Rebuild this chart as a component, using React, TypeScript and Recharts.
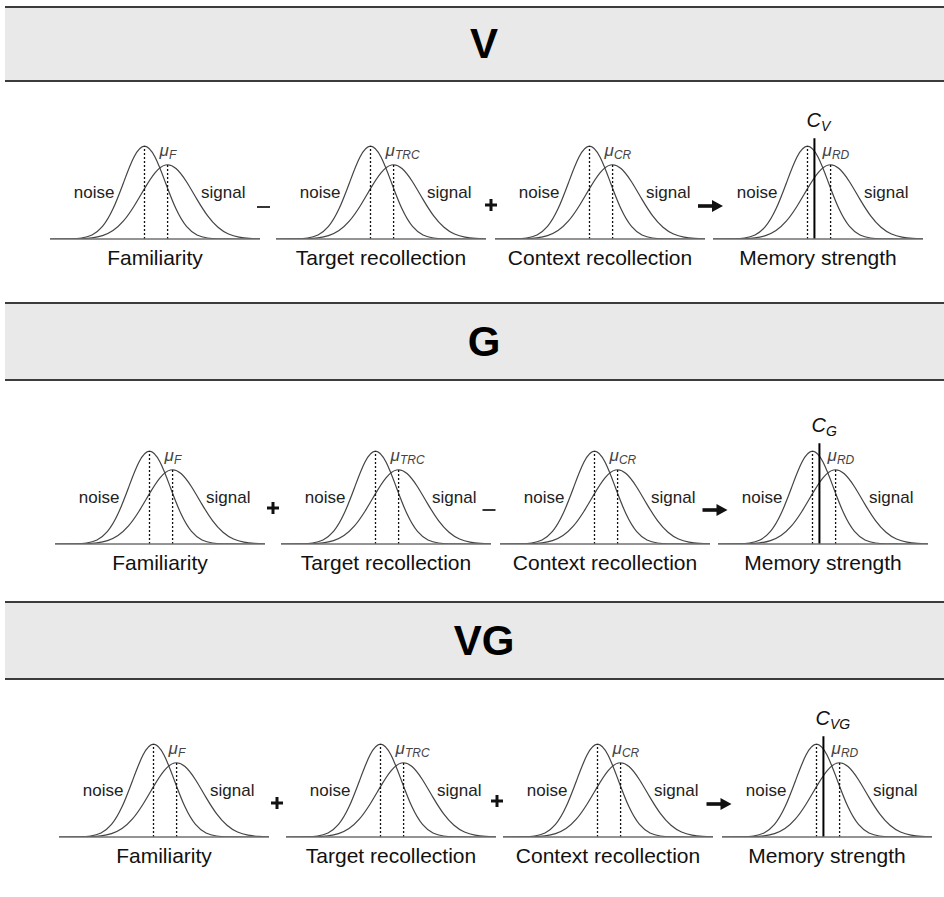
import React from 'react';
import { LineChart, Line, XAxis, YAxis, ReferenceLine, ReferenceDot } from 'recharts';

// ---------- data ----------
const X_GRID = [-4.5, -4, -3.5, -3, -2.5, -2, -1.5, -1, -0.5, 0, 0.5, 1, 1.5, 2, 2.5, 3, 3.5, 4, 4.5, 5, 5.5];
const NOISE = [0.00004, 0.0003, 0.0022, 0.0111, 0.0439, 0.1353, 0.3247, 0.6065, 0.8825, 1, 0.8825, 0.6065, 0.3247, 0.1353, 0.0439, 0.0111, 0.0022, 0.0003, 0.00004, 0, 0];
const SIGNAL = [0, 0.0002, 0.0009, 0.0037, 0.0127, 0.037, 0.092, 0.195, 0.353, 0.543, 0.713, 0.797, 0.76, 0.617, 0.427, 0.252, 0.127, 0.054, 0.0198, 0.0062, 0.0016];

const PANEL_TITLES = ['V', 'G', 'VG'];
const AXIS_LABELS = ['Familiarity', 'Target recollection', 'Context recollection', 'Memory strength'];
const MU_SUBSCRIPTS = ['F', 'TRC', 'CR', 'RD'];
const OPERATORS = [
  ['minus', 'plus', 'arrow'],
  ['plus', 'minus', 'arrow'],
  ['plus', 'plus', 'arrow'],
];
const CRITERION_SUBSCRIPTS = ['V', 'G', 'VG'];
const CRITERIA = [0.33, 0.33, 0.33];
const NOISE_MEAN = 0;
const SIGNAL_MEAN = 1.1;
const NOISE_PEAK = 1;
const SIGNAL_PEAK = 0.8;
const CRITERION_TOP = 1.085;
const NOISE_TEXT_AT = [-2.4, 0.5];
const SIGNAL_TEXT_AT = [3.75, 0.5];

const DATA = X_GRID.map((x, i) => ({ x, noise: NOISE[i], signal: SIGNAL[i] }));

// ---------- layout ----------
const FONT = '"Liberation Sans", Arial, Helvetica, sans-serif';
const PLOT_W = 210;
const PLOT_H = 130;
const AXIS_H = 40;
const NOISE_OFFSET = 94.5; // px from plot left to noise mean
const BANDS = [[7, 81], [303, 380], [602, 679]];
const ROW_BASELINES = [239, 544, 837];
const ROW_NOISE_MEANS = [
  [144, 370, 589, 807],
  [149, 375, 594, 812],
  [153, 380, 597, 816],
];
const OP_POS = [
  [[263.5, 207], [491, 205], [710.5, 206]],
  [[273, 508], [489, 510], [715, 510]],
  [[277, 803], [497, 801], [719, 804]],
];

const vbCenter = (props: any) => {
  const vb = props.viewBox || { x: 0, y: 0, width: 0, height: 0 };
  return { cx: vb.x + (vb.width || 0) / 2, cy: vb.y + (vb.height || 0) / 2, vb };
};

const axisTitle = (text: string) => (props: any) => {
  const vb = props.viewBox || { x: 0, y: 0, width: 0 };
  return (
    <text x={vb.x + vb.width / 2} y={vb.y + 26} textAnchor="middle" fontSize={21} fontFamily={FONT} fill="#111">
      {text}
    </text>
  );
};

const plainText = (text: string) => (props: any) => {
  const { cx, cy } = vbCenter(props);
  return (
    <text x={cx} y={cy + 5} textAnchor="middle" fontSize={17} fontFamily={FONT} fill="#222">
      {text}
    </text>
  );
};

const muText = (sub: string) => (props: any) => {
  const { cx, cy } = vbCenter(props);
  return (
    <text x={cx - 8} y={cy - 9} fontFamily={FONT} fill="#444" fontStyle="italic">
      <tspan fontSize={17}>μ</tspan>
      <tspan fontSize={12} dy={3}>{sub}</tspan>
    </text>
  );
};

const critText = (sub: string) => (props: any) => {
  const { cx, cy } = vbCenter(props);
  return (
    <text x={cx - 8} y={cy - 11} fontFamily={FONT} fill="#111" fontStyle="italic">
      <tspan fontSize={20}>C</tspan>
      <tspan fontSize={14} dy={4}>{sub}</tspan>
    </text>
  );
};

function MiniChart({ axisLabel, muSub, criterion, critSub }: { axisLabel: string; muSub: string; criterion?: number; critSub?: string }) {
  return (
    <LineChart
      width={PLOT_W}
      height={PLOT_H + AXIS_H}
      data={DATA}
      margin={{ top: 0, right: 0, bottom: 0, left: 0 }}
      style={{ overflow: 'visible' }}
    >
      <XAxis
        type="number"
        dataKey="x"
        domain={[-4.5, 5.5]}
        allowDataOverflow
        tick={false}
        tickLine={false}
        axisLine={{ stroke: '#707070', strokeWidth: 1.6 }}
        height={AXIS_H}
        label={axisTitle(axisLabel)}
      />
      <YAxis type="number" hide domain={[0, 1.4]} allowDataOverflow />
      <Line type="natural" dataKey="noise" stroke="#444" strokeWidth={1.2} dot={false} isAnimationActive={false} />
      <Line type="natural" dataKey="signal" stroke="#444" strokeWidth={1.2} dot={false} isAnimationActive={false} />
      <ReferenceLine
        segment={[{ x: NOISE_MEAN, y: 0 }, { x: NOISE_MEAN, y: NOISE_PEAK }]}
        stroke="#111"
        strokeWidth={1.3}
        strokeDasharray="2 2"
      />
      <ReferenceLine
        segment={[{ x: SIGNAL_MEAN, y: 0 }, { x: SIGNAL_MEAN, y: SIGNAL_PEAK }]}
        stroke="#111"
        strokeWidth={1.3}
        strokeDasharray="2 2"
      />
      {criterion !== undefined && (
        <ReferenceLine
          segment={[{ x: criterion, y: 0 }, { x: criterion, y: CRITERION_TOP }]}
          stroke="#000"
          strokeWidth={2}
        />
      )}
      {criterion !== undefined && (
        <ReferenceDot x={criterion} y={CRITERION_TOP} r={0} fill="none" stroke="none" label={critText(critSub || '')} />
      )}
      <ReferenceDot x={SIGNAL_MEAN} y={SIGNAL_PEAK} r={0} fill="none" stroke="none" label={muText(muSub)} />
      <ReferenceDot x={NOISE_TEXT_AT[0]} y={NOISE_TEXT_AT[1]} r={0} fill="none" stroke="none" label={plainText('noise')} />
      <ReferenceDot x={SIGNAL_TEXT_AT[0]} y={SIGNAL_TEXT_AT[1]} r={0} fill="none" stroke="none" label={plainText('signal')} />
    </LineChart>
  );
}

function Operator({ kind, x, y }: { kind: string; x: number; y: number }) {
  if (kind === 'minus') {
    return <line x1={x - 6.5} x2={x + 6.5} y1={y} y2={y} stroke="#111" strokeWidth={1.7} />;
  }
  if (kind === 'plus') {
    return (
      <g stroke="#111" strokeWidth={3}>
        <line x1={x - 6} x2={x + 6} y1={y} y2={y} />
        <line x1={x} x2={x} y1={y - 6} y2={y + 6} />
      </g>
    );
  }
  return (
    <g fill="#111">
      <rect x={x - 12.5} y={y - 1.8} width={15} height={3.6} />
      <polygon points={`${x + 12.5},${y} ${x + 1.5},${y - 6} ${x + 1.5},${y + 6}`} />
    </g>
  );
}

export default function App() {
  return (
    <div style={{ position: 'absolute', left: 0, top: 0, width: 944, height: 897, background: '#fff', overflow: 'hidden', fontFamily: FONT }}>
      {PANEL_TITLES.map((title, r) => (
        <React.Fragment key={title}>
          <div
            style={{
              position: 'absolute',
              left: 5,
              top: BANDS[r][0] - 1,
              width: 944 - 5,
              height: BANDS[r][1] - BANDS[r][0] - 2,
              background: '#e9e9e9',
              borderTop: '2px solid #3c3c3c',
              borderBottom: '2px solid #3c3c3c',
            }}
          />
          <div
            style={{
              position: 'absolute',
              left: 384,
              width: 200,
              top: BANDS[r][0],
              height: BANDS[r][1] - BANDS[r][0],
              lineHeight: `${BANDS[r][1] - BANDS[r][0]}px`,
              textAlign: 'center',
              fontSize: 42,
              fontWeight: 'bold',
              color: '#000',
            }}
          >
            {title}
          </div>
          {AXIS_LABELS.map((lab, c) => (
            <div
              key={lab}
              style={{
                position: 'absolute',
                left: ROW_NOISE_MEANS[r][c] - NOISE_OFFSET,
                top: ROW_BASELINES[r] - PLOT_H,
              }}
            >
              <MiniChart
                axisLabel={lab}
                muSub={MU_SUBSCRIPTS[c]}
                criterion={c === 3 ? CRITERIA[r] : undefined}
                critSub={c === 3 ? CRITERION_SUBSCRIPTS[r] : undefined}
              />
            </div>
          ))}
        </React.Fragment>
      ))}
      <svg width={944} height={897} style={{ position: 'absolute', left: 0, top: 0, pointerEvents: 'none' }}>
        {OPERATORS.map((row, r) =>
          row.map((kind, i) => <Operator key={`${r}-${i}`} kind={kind} x={OP_POS[r][i][0]} y={OP_POS[r][i][1]} />)
        )}
      </svg>
    </div>
  );
}
